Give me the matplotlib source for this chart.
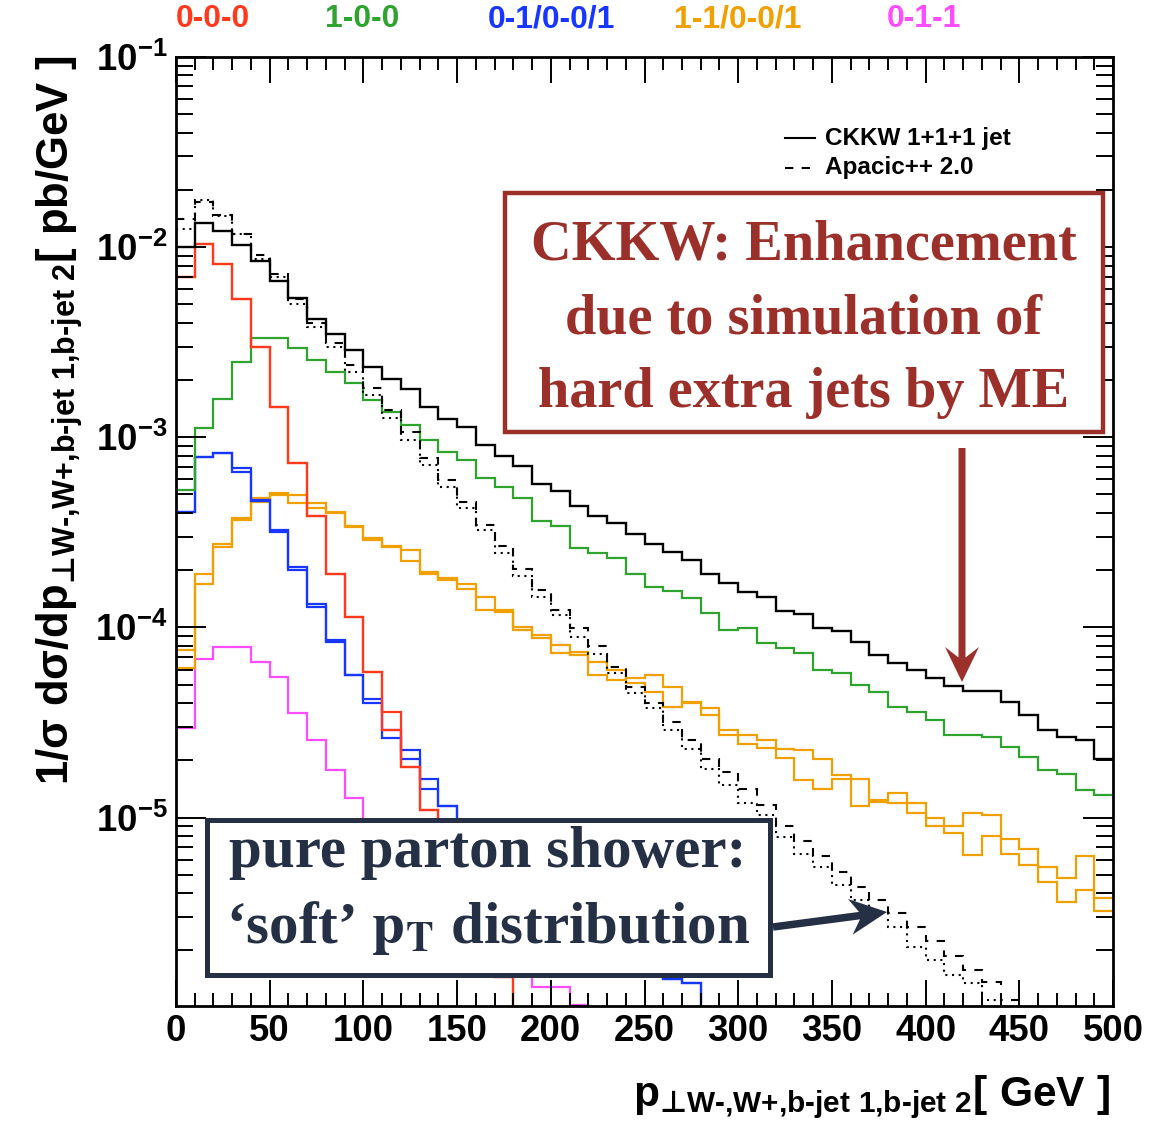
import matplotlib
matplotlib.use("Agg")
import matplotlib.pyplot as plt
import numpy as np
from matplotlib import font_manager
from matplotlib.patches import Rectangle, FancyArrow
from matplotlib.lines import Line2D
from matplotlib.ticker import MultipleLocator, LogLocator, FuncFormatter, NullFormatter

# 10 GeV bins from 0 to 500 GeV
edges = np.arange(0, 510, 10)
OFF = 1e-8  # empty bins, drawn below the frame

ckkw_total = [1.0e-2, 1.34e-2, 1.22e-2, 1.02e-2, 8.5e-3, 6.6e-3, 5.4e-3, 4.2e-3, 3.48e-3, 2.88e-3,
              2.33e-3, 2.02e-3, 1.79e-3, 1.45e-3, 1.24e-3, 1.13e-3, 9.1e-4, 8.0e-4, 7.1e-4, 5.7e-4,
              5.2e-4, 4.35e-4, 3.87e-4, 3.52e-4, 3.1e-4, 2.76e-4, 2.5e-4, 2.26e-4, 1.92e-4, 1.72e-4,
              1.54e-4, 1.45e-4, 1.22e-4, 1.18e-4, 9.9e-5, 9.6e-5, 8.4e-5, 7.15e-5, 6.5e-5, 5.96e-5,
              5.39e-5, 4.91e-5, 4.6e-5, 4.6e-5, 4.06e-5, 3.48e-5, 2.9e-5, 2.64e-5, 2.55e-5, 2.04e-5]

apacic_a = [1.4e-2, 1.72e-2, 1.48e-2, 1.17e-2, 9.1e-3, 7.2e-3, 5.35e-3, 4.0e-3, 3.15e-3, 2.4e-3,
            1.82e-3, 1.39e-3, 1.07e-3, 7.75e-4, 5.96e-4, 4.58e-4, 3.45e-4, 2.69e-4, 2.03e-4, 1.58e-4,
            1.24e-4, 9.9e-5, 7.94e-5, 6.2e-5, 4.83e-5, 4.0e-5, 3.18e-5, 2.55e-5, 2.04e-5, 1.74e-5,
            1.42e-5, 1.16e-5, 9.0e-6, 7.5e-6, 6.25e-6, 5.18e-6, 4.3e-6, 3.7e-6, 3.13e-6, 2.65e-6,
            2.24e-6, 1.88e-6, 1.58e-6, 1.37e-6, 1.1e-6, OFF, OFF, OFF, OFF, OFF]

apacic_b = [1.25e-2, 1.78e-2, 1.45e-2, 1.17e-2, 8.7e-3, 7.0e-3, 5.0e-3, 3.82e-3, 3.0e-3, 2.21e-3,
            1.67e-3, 1.27e-3, 9.7e-4, 7.14e-4, 5.5e-4, 4.23e-4, 3.25e-4, 2.45e-4, 1.86e-4, 1.45e-4,
            1.16e-4, 8.9e-5, 7.25e-5, 5.73e-5, 4.5e-5, 3.75e-5, 2.9e-5, 2.3e-5, 1.81e-5, 1.48e-5,
            1.19e-5, 1.03e-5, 7.9e-6, 6.46e-6, 5.5e-6, 4.4e-6, 3.67e-6, 3.16e-6, 2.65e-6, 2.08e-6,
            1.78e-6, 1.48e-6, 1.34e-6, 1.1e-6, OFF, OFF, OFF, OFF, OFF, OFF]

red_a = [6.95e-3, 1.04e-2, 8.17e-3, 5.32e-3, 3.0e-3, 1.44e-3, 7.3e-4, 3.86e-4, 1.92e-4, 1.14e-4,
         5.83e-5, 3.6e-5, 1.85e-5, 1.09e-5, 7e-6, 4.5e-6, 2.6e-6, 1.45e-6] + [OFF] * 32
red_b = [6.95e-3, 1.04e-2, 8.17e-3, 5.32e-3, 3.0e-3, 1.44e-3, 7.3e-4, 3.86e-4, 1.92e-4, 1.14e-4,
         5.83e-5, 2.9e-5, 1.85e-5, 1.09e-5, 7e-6, 4.5e-6, 2.6e-6, 1.45e-6] + [OFF] * 32

green = [5.3e-4, 1.12e-3, 1.58e-3, 2.48e-3, 3.34e-3, 3.34e-3, 2.96e-3, 2.55e-3, 2.21e-3, 1.92e-3,
         1.57e-3, 1.36e-3, 1.16e-3, 9.7e-4, 8.4e-4, 7.6e-4, 6.08e-4, 5.45e-4, 4.8e-4, 3.63e-4,
         3.41e-4, 2.6e-4, 2.45e-4, 2.31e-4, 1.92e-4, 1.64e-4, 1.56e-4, 1.42e-4, 1.19e-4, 9.7e-5,
         9.9e-5, 8.24e-5, 7.76e-5, 7.3e-5, 5.96e-5, 5.73e-5, 4.97e-5, 4.58e-5, 3.8e-5, 3.6e-5,
         3.25e-5, 2.71e-5, 2.71e-5, 2.64e-5, 2.35e-5, 2.09e-5, 1.78e-5, 1.7e-5, 1.39e-5, 1.31e-5]

blue_a = [4.06e-4, 7.85e-4, 8.24e-4, 6.87e-4, 4.68e-4, 3.25e-4, 2.09e-4, 1.33e-4, 8.57e-5, 5.6e-5,
          4.18e-5, 2.87e-5, 2.26e-5, 1.6e-5, 1.15e-5, 8e-6, 6.2e-6, 4.8e-6, 3.8e-6, 3.1e-6,
          2.6e-6, 2.2e-6, 1.95e-6, 1.75e-6, 1.6e-6, 1.5e-6, 1.42e-6, 1.34e-6] + [OFF] * 22
blue_b = [4.06e-4, 7.85e-4, 8.24e-4, 6.6e-4, 4.6e-4, 3.18e-4, 2.0e-4, 1.28e-4, 8.34e-5, 5.6e-5,
          3.98e-5, 2.63e-5, 2.04e-5, 1.42e-5, 1.15e-5, 8e-6, 6.2e-6, 4.8e-6, 3.8e-6, 3.1e-6,
          2.6e-6, 2.2e-6, 1.95e-6, 1.75e-6, 1.6e-6, 1.5e-6, 1.42e-6, 1.34e-6] + [OFF] * 22

orange_a = [7.58e-5, 1.92e-4, 2.74e-4, 3.75e-4, 4.78e-4, 5.07e-4, 4.97e-4, 4.53e-4, 4.06e-4, 3.41e-4,
            2.94e-4, 2.68e-4, 2.55e-4, 1.96e-4, 1.81e-4, 1.69e-4, 1.45e-4, 1.24e-4, 1.0e-4, 9.1e-5,
            8.07e-5, 7.4e-5, 6.6e-5, 6.0e-5, 5.4e-5, 5.6e-5, 4.86e-5, 4.06e-5, 3.78e-5, 2.88e-5,
            2.71e-5, 2.55e-5, 2.3e-5, 2.26e-5, 2.04e-5, 1.67e-5, 1.6e-5, 1.23e-5, 1.34e-5, 1.19e-5,
            9.9e-6, 9.0e-6, 1.05e-5, 1.03e-5, 7.75e-6, 6.87e-6, 5.5e-6, 4.78e-6, 6.25e-6, 3.75e-6]
orange_b = [6.08e-5, 1.69e-4, 2.65e-4, 3.67e-4, 4.58e-4, 4.97e-4, 4.53e-4, 4.23e-4, 3.98e-4, 3.36e-4,
            2.88e-4, 2.64e-4, 2.24e-4, 1.9e-4, 1.78e-4, 1.6e-4, 1.23e-4, 1.21e-4, 9.7e-5, 8.75e-5,
            7.3e-5, 7.2e-5, 5.6e-5, 5.3e-5, 5.1e-5, 4.58e-5, 3.82e-5, 3.98e-5, 3.44e-5, 2.71e-5,
            2.45e-5, 2.31e-5, 2.05e-5, 1.57e-5, 1.42e-5, 1.6e-5, 1.15e-5, 1.21e-5, 1.19e-5, 1.05e-5,
            9.0e-6, 8.24e-6, 6.33e-6, 7.98e-6, 6.46e-6, 5.61e-6, 4.58e-6, 3.6e-6, 4.18e-6, 3.23e-6]

magenta = [2.95e-5, 6.8e-5, 7.85e-5, 7.85e-5, 6.6e-5, 5.46e-5, 3.55e-5, 2.55e-5, 1.78e-5, 1.26e-5,
           9e-6, 7e-6, 5.5e-6, 4.4e-6, 3.5e-6, 2.8e-6, 2.2e-6, 1.8e-6, 1.5e-6, 1.29e-6,
           1.29e-6, 1.03e-6] + [OFF] * 28

class_labels = ["0-0-0", "1-0-0", "0-1/0-0/1", "1-1/0-0/1", "0-1-1"]
class_colors = ["#ff3a1c", "#2ea32e", "#1736ff", "#f0a000", "#ff4cff"]
class_label_x = [213, 362, 551, 738, 924]

ME_RED = "#9b302b"
NAVY = "#253045"

W, H = 1173, 1123

installed = {f.name for f in font_manager.fontManager.ttflist}
NARROW = "Liberation Sans Narrow" if "Liberation Sans Narrow" in installed else "Liberation Sans"
narrow_scale = 1.0 if NARROW == "Liberation Sans Narrow" else 0.85

plt.rcParams["font.family"] = [NARROW, "DejaVu Sans"]
plt.rcParams["font.weight"] = "bold"
plt.rcParams["mathtext.fontset"] = "custom"
plt.rcParams["mathtext.bf"] = f"{NARROW}:bold"
plt.rcParams["mathtext.rm"] = f"{NARROW}:bold"
plt.rcParams["mathtext.it"] = f"{NARROW}:bold"
plt.rcParams["mathtext.sf"] = f"{NARROW}:bold"
plt.rcParams["mathtext.tt"] = "DejaVu Sans:bold"  # only used for the perp sign
plt.rcParams["mathtext.default"] = "bf"
plt.rcParams["mathtext.fallback"] = "stix"


def px(x, y):
    """pixel position (from top-left) -> inches for dpi_scale_trans"""
    return x / 100.0, (H - y) / 100.0


fig = plt.figure(figsize=(W / 100, H / 100), dpi=100)
ax = fig.add_axes([176 / W, 1 - 1006 / H, (1113 - 176) / W, (1006 - 57) / H])

lw = 1.6
ax.stairs(magenta, edges, baseline=None, color=class_colors[4], lw=lw)
for vals in (orange_a, orange_b):
    ax.stairs(vals, edges, baseline=None, color=class_colors[3], lw=lw)
for vals in (blue_a, blue_b):
    ax.stairs(vals, edges, baseline=None, color=class_colors[2], lw=lw)
ax.stairs(green, edges, baseline=None, color=class_colors[1], lw=lw)
for vals in (red_a, red_b):
    ax.stairs(vals, edges, baseline=None, color=class_colors[0], lw=lw)
ax.stairs(apacic_b, edges, baseline=None, color="black", lw=1.5, linestyle=(0, (1, 2.2)))
ax.stairs(apacic_a, edges, baseline=None, color="black", lw=1.5, linestyle=(0, (4, 4)))
ax.stairs(ckkw_total, edges, baseline=None, color="black", lw=1.7)

ax.set_xlim(0, 500)
ax.set_yscale("log")
ax.set_ylim(1.02e-6, 0.1)
ax.xaxis.set_major_locator(MultipleLocator(50))
ax.xaxis.set_minor_locator(MultipleLocator(10))
ax.yaxis.set_major_locator(LogLocator(base=10, numticks=20))
ax.yaxis.set_minor_locator(LogLocator(base=10, subs=np.arange(2, 10), numticks=20))
ax.yaxis.set_minor_formatter(NullFormatter())
ax.yaxis.set_major_formatter(FuncFormatter(
    lambda v, p: r"$\mathbf{10^{%d}}$" % int(round(np.log10(v)))))

for side in ax.spines.values():
    side.set_linewidth(2.0)
ax.tick_params(which="both", direction="in", top=True, right=True, width=1.4,
               labelsize=31 * narrow_scale, pad=6)
ax.tick_params(axis="x", which="major", length=18.5)
ax.tick_params(axis="x", which="minor", length=9.5)
ax.tick_params(axis="y", which="major", length=21.5)
ax.tick_params(axis="y", which="minor", length=12)

# axis titles (hyphen U+2010 keeps the jet names compact)
sub = r"\mathtt{⊥}W‐{,}W{+}{,}b‐jet\ 1{,}b‐jet\ 2"
fig.text(*px(1110, 1121), r"$p_{%s}[\ GeV\ ]$" % sub,
         transform=fig.dpi_scale_trans, ha="right", va="bottom", fontsize=36 * narrow_scale)
fig.text(*px(60, 55), r"$1/\sigma\ d\sigma/dp_{%s}[\ pb/GeV\ ]$" % sub,
         transform=fig.dpi_scale_trans, ha="center", va="top", rotation=90,
         fontsize=37 * narrow_scale)

# jet-class labels across the top
for lab, col, xc in zip(class_labels, class_colors, class_label_x):
    fig.text(*px(xc, 19), lab, transform=fig.dpi_scale_trans, ha="center", va="center",
             color=col, fontsize=27 * narrow_scale)

# generator key
fig.add_artist(Line2D([7.85, 8.15], [px(0, 138)[1]] * 2, transform=fig.dpi_scale_trans,
                      color="black", lw=1.5))
fig.add_artist(Line2D([7.85, 8.15], [px(0, 168)[1]] * 2, transform=fig.dpi_scale_trans,
                      color="black", lw=1.5, linestyle=(0, (4, 4))))
for yy, lab in ((138, "CKKW 1+1+1 jet"), (168, "Apacic++ 2.0")):
    fig.text(*px(825, yy), lab, transform=fig.dpi_scale_trans, ha="left", va="center",
             family="Liberation Sans", fontsize=17.5)

# annotation boxes
serif = dict(family="Liberation Serif", weight="bold")
x0, y0 = px(505, 432)
fig.add_artist(Rectangle((x0, y0), (1103 - 505) / 100, (432 - 193) / 100,
                         transform=fig.dpi_scale_trans, facecolor="white",
                         edgecolor=ME_RED, lw=3.2, zorder=5))
for yb, line in ((260, "CKKW: Enhancement"), (333, "due to simulation of"),
                 (407, "hard extra jets by ME")):
    fig.text(*px(804, yb), line, transform=fig.dpi_scale_trans, ha="center", va="baseline",
             color=ME_RED, fontsize=40.5, zorder=6, **serif)
fig.add_artist(FancyArrow(*px(962, 448), 0, -2.34, width=0.07, head_width=0.34,
                          head_length=0.35, overhang=0.3, length_includes_head=True,
                          transform=fig.dpi_scale_trans, color=ME_RED, lw=0, zorder=6))

x0, y0 = px(207, 975)
fig.add_artist(Rectangle((x0, y0), (770 - 207) / 100, (975 - 820) / 100,
                         transform=fig.dpi_scale_trans, facecolor="white",
                         edgecolor=NAVY, lw=3.6, zorder=5))
fig.text(*px(488, 867), "pure parton shower:", transform=fig.dpi_scale_trans,
         ha="center", va="baseline", color=NAVY, fontsize=42.5, zorder=6, **serif)
fig.text(*px(488, 943), r"‘soft’ $\mathbf{p}_{\mathbf{T}}$ distribution",
         transform=fig.dpi_scale_trans, ha="center", va="baseline", color=NAVY,
         fontsize=42.5, zorder=6, math_fontfamily="stix", **serif)
fig.add_artist(FancyArrow(*px(773, 927), 1.14, 0.15, width=0.075, head_width=0.36,
                          head_length=0.37, overhang=0.25, length_includes_head=True,
                          transform=fig.dpi_scale_trans, color=NAVY, lw=0, zorder=6))

fig.savefig("out.png", dpi=100, facecolor="white")
